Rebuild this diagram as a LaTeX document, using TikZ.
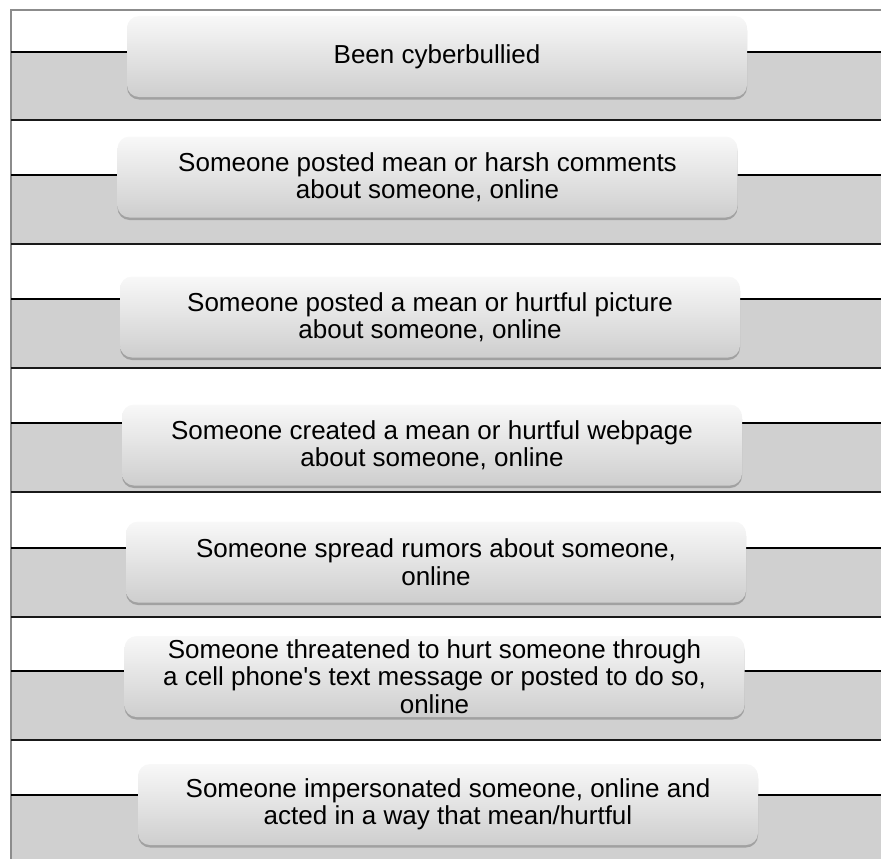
\documentclass[tikz,border=0pt]{standalone}
\usepackage{fontspec}
\setmainfont{Liberation Sans}
\usepackage{tikz}
\usetikzlibrary{shadows, calc}
\definecolor{bandcolor}{RGB}{208,208,208}
\definecolor{framecolor}{RGB}{140,140,140}
\definecolor{boxtop}{RGB}{248,248,248}
\definecolor{boxbottom}{RGB}{206,206,206}

\begin{document}
\begin{tikzpicture}[
    x=1pt, y=-1pt,
    band/.style={fill=bandcolor, draw=none},
    midline/.style={draw=black, line width=1.2pt},
    rowline/.style={draw=black!90, line width=1.6pt},
    item/.style={rounded corners=12pt, top color=boxtop, bottom color=boxbottom, draw=none,
        minimum width=620pt, minimum height=81pt, inner sep=0pt, align=center,
        font=\fontsize{26}{27.5}\selectfont,
        drop shadow={shadow xshift=0pt, shadow yshift=-2.5pt, opacity=0.35, fill=black!70}}
]
    \useasboundingbox (0,0) rectangle (881,859);

    % Bands
    \foreach \m/\b in {52/120, 175/244, 299/368, 423/492, 548/617, 671/740, 795/859}
        \path[band] (11,\m) rectangle (881,\b);

    % Frame
    \draw[framecolor, line width=1.5pt] (11,859) -- (11,10) -- (881,10);

    % Lines
    \foreach \m in {52, 175, 299, 423, 548, 671, 795}
        \draw[midline] (11,\m) -- (881,\m);
    \foreach \b in {120, 244, 368, 492, 617, 740}
        \draw[rowline] (11,\b) -- (881,\b);

    % Boxes
    \node[item] (been) at (437,56.5) {Been cyberbullied};
    \node[item] (comments) at (427.5,177) {Someone posted mean or harsh comments\\about someone, online};
    \node[item] (picture) at (430,317) {Someone posted a mean or hurtful picture\\about someone, online};
    \node[item] (webpage) at (432,445) {Someone created a mean or hurtful webpage\\about someone, online};
    \node[item] (rumors) at (436,562) {Someone spread rumors about someone,\\online};
    \node[item] (threat) at (434.5,676.5) {Someone threatened to hurt someone through\\a cell phone\textquotesingle s text message or posted to do so,\\online};
    \node[item] (imperson) at (448,804.5) {Someone impersonated someone, online and\\acted in a way that mean/hurtful};
\end{tikzpicture}
\end{document}
